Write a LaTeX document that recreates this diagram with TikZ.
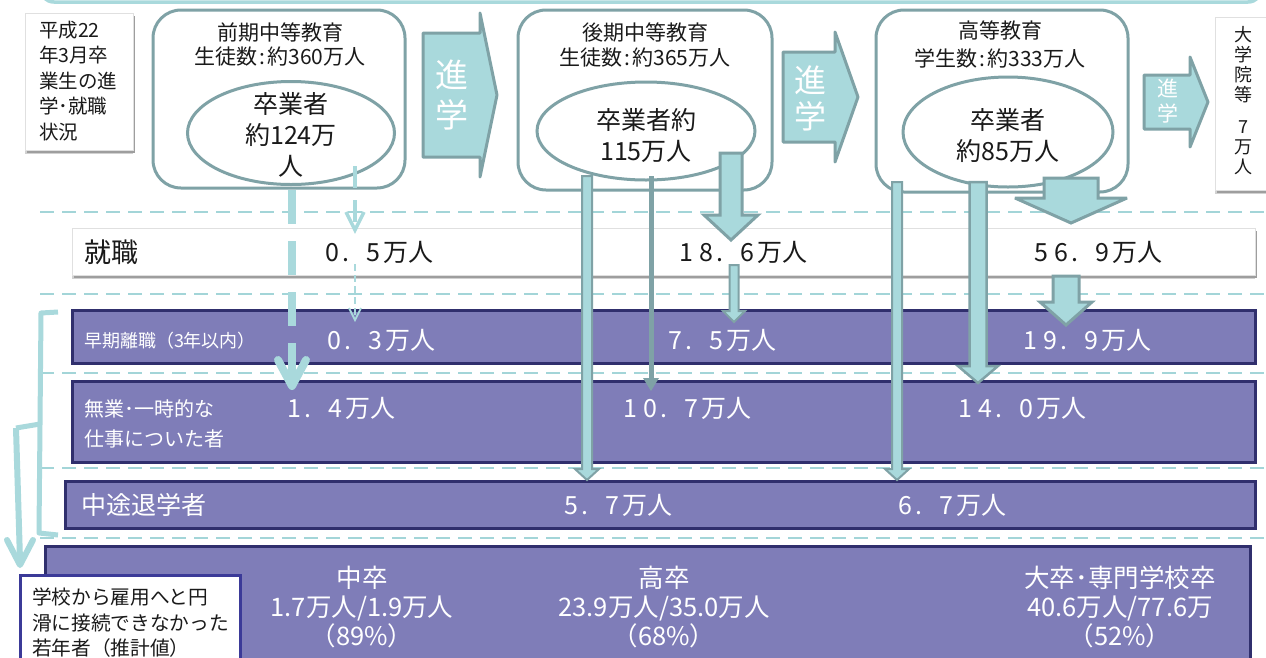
\documentclass[tikz,border=0pt]{standalone}
\usepackage{fontspec}
\setmainfont{Noto Sans CJK JP}
\usetikzlibrary{shapes.geometric}
\definecolor{lt}{HTML}{A9D9DC}
\definecolor{gt}{HTML}{7FA2A6}
\definecolor{dl}{HTML}{A3D5D8}
\definecolor{pu}{HTML}{7F7DB8}
\definecolor{nv}{HTML}{302F6D}
\definecolor{bb}{HTML}{3B3A98}
\definecolor{tx}{HTML}{1A1A1A}
\newcommand{\dg}[1]{\makebox[0.8em]{#1}}
\newcommand{\dpt}{\makebox[0.82em][l]{.}}
% x, ytop, ytip, half shaft, half head, head length, line width
\newcommand{\blkdown}[7]{%
  \filldraw[blk, line width=#7] (#1-#4,#2) -- (#1-#4,#3-#6) -- (#1-#5,#3-#6) -- (#1,#3) -- (#1+#5,#3-#6) -- (#1+#4,#3-#6) -- (#1+#4,#2) -- cycle;}
% x0, x1, xtip, yc, half body, half head, line width
\newcommand{\blkright}[7]{%
  \filldraw[blk, line join=round, line width=#7] (#1,#4-#5) -- (#2,#4-#5) -- (#2,#4-#6) -- (#3,#4) -- (#2,#4+#6) -- (#2,#4+#5) -- (#1,#4+#5) -- cycle;}
\begin{document}
\begin{tikzpicture}[x=1pt,y=-1pt,
  every node/.style={inner sep=0pt,outer sep=0pt,text=tx},
  dline/.style={draw=dl,line width=2.5pt,dash pattern=on 14pt off 8pt},
  rbox/.style={draw=gt,line width=3pt,rounded corners=28pt,fill=white,anchor=north west},
  ell/.style={draw=gt,line width=3pt,ellipse,fill=white},
  wrow/.style={fill=white,draw=black!12,line width=0.8pt,anchor=north west,
    preaction={fill=black!18,transform canvas={xshift=0pt,yshift=-4pt}},
    preaction={fill=black!38,transform canvas={xshift=1.5pt,yshift=-2.5pt}}},
  prow/.style={fill=pu,draw=nv,line width=3pt,anchor=north west},
  blk/.style={fill=lt,draw=gt,line join=miter,miter limit=3},
  val/.style={font=\fontsize{25}{30}\selectfont},
  pval/.style={val,text=white},
  ttl/.style={font=\fontsize{21}{25}\selectfont},
  elltxt/.style={align=center,font=\fontsize{25}{31}\selectfont},
  shin/.style={align=center,text=white},
  bottxt/.style={align=center,text=white,font=\fontsize{25.5}{29}\selectfont}
]
\useasboundingbox (0,0) rectangle (1266,657);
\fill[white] (0,0) rectangle (1266,657);

% top frame (partly outside)
\draw[draw=lt,line width=3.5pt,rounded corners=14pt] (40,-30) -- (40,2) -- (1262,2) -- (1262,-30);

% dashed separators
\foreach \yy in {212,294,373,468,538} \draw[dline] (40,\yy) -- (1266,\yy);

% left info box
\node[wrow,minimum width=108pt,minimum height=137pt] (info) at (25,13) {};
\node[anchor=north west,align=left,font=\fontsize{19.5}{25.5}\selectfont] (infot) at (39,21) {平成22\\年3月卒\\業生の進\\学･就職\\状況};

% stage boxes
\node[rbox,minimum width=252pt,minimum height=178pt] (b1) at (153,10) {};
\node[ttl] (b1a) at (280,33) {前期中等教育};
\node[ttl] (b1b) at (280,57) {生徒数\hspace{2pt}:\hspace{2pt}約360万人};
\node[ell,minimum width=207pt,minimum height=103pt] (e1) at (291,133) {};
\node[elltxt] (e1t) at (291,135) {卒業者\\約124万\\人};

\node[rbox,minimum width=254pt,minimum height=180pt] (b2) at (518,10) {};
\node[ttl] (b2a) at (645,33) {後期中等教育};
\node[ttl] (b2b) at (645,58) {生徒数\hspace{2pt}:\hspace{2pt}約365万人};
\node[ell,minimum width=218pt,minimum height=98pt] (e2) at (646,131) {};
\node[elltxt] (e2t) at (646,136) {卒業者約\\115万人};

\node[rbox,minimum width=252pt,minimum height=182pt] (b3) at (876,10) {};
\node[ttl] (b3a) at (1000,30) {高等教育};
\node[ttl] (b3b) at (1000,58) {学生数\hspace{2pt}:\hspace{2pt}約333万人};
\node[ell,minimum width=210pt,minimum height=110pt] (e3) at (1008,132) {};
\node[elltxt] (e3t) at (1008,136) {卒業者\\約85万人};

% progression arrows
\blkright{423}{480}{497}{95}{62}{82}{3}
\node[shin,font=\fontsize{33}{40}\selectfont] (s1) at (452,95) {進\\学};
\blkright{783}{835}{858}{97}{45}{65}{3}
\node[shin,font=\fontsize{32}{36}\selectfont] (s2) at (810,98) {進\\学};
\blkright{1144}{1190}{1208}{102}{27}{45}{3}
\node[shin,font=\fontsize{21}{25}\selectfont] (s3) at (1168,101) {進\\学};

% graduate school box
\node[wrow,minimum width=60pt,minimum height=173pt] (dgi) at (1215,17) {};
\node[align=center,font=\fontsize{18}{20}\selectfont] (dgit) at (1243,101) {大\\学\\院\\等\\[12pt]7\\万\\人};

% rows
\node[wrow,minimum width=1183pt,minimum height=47pt] (shu) at (72,228) {};
\node[anchor=west,font=\fontsize{27}{32}\selectfont] (shul) at (84,252) {就職};
\node[val] (v11) at (378,252) {\dg0\dpt\dg5万人};
\node[val] (v12) at (742,252) {\dg1\dg8\dpt\dg6万人};
\node[val] (v13) at (1097,252) {\dg5\dg6\dpt\dg9万人};

\node[prow,minimum width=1183pt,minimum height=53pt] (sou) at (72,310) {};
\node[anchor=west,text=white,font=\fontsize{18}{21}\selectfont] (soul) at (84,341) {早期離職（3年以内）};
\node[pval] (v21) at (380,340) {\dg0\dpt\dg3万人};
\node[pval] (v22) at (721,340) {\dg7\dpt\dg5万人};
\node[pval] (v23) at (1086,340) {\dg1\dg9\dpt\dg9万人};

\node[prow,minimum width=1183pt,minimum height=81pt] (mug) at (72,381) {};
\node[anchor=north west,align=left,text=white,font=\fontsize{20}{30}\selectfont] (mugl) at (84,400) {無業･一時的な\\仕事についた者};
\node[pval] (v31) at (340,408) {\dg1\dpt\dg4万人};
\node[pval] (v32) at (686,408) {\dg1\dg0\dpt\dg7万人};
\node[pval] (v33) at (1021,408) {\dg1\dg4\dpt\dg0万人};

\node[prow,minimum width=1190pt,minimum height=47pt] (chu) at (65,481) {};
\node[anchor=west,text=white,font=\fontsize{25}{30}\selectfont] (chul) at (81,505) {中途退学者};
\node[pval] (v41) at (617,505) {\dg5\dpt\dg7万人};
\node[pval] (v42) at (951,505) {\dg6\dpt\dg7万人};

\node[prow,minimum width=1205pt,minimum height=140pt] (bot) at (45,546) {};
\node[bottxt] (c1) at (362,607) {中卒\\1.7万人/1.9万人\\（89\%）};
\node[bottxt] (c2) at (664,607) {高卒\\23.9万人/35.0万人\\（68\%）};
\node[bottxt] (c3) at (1120,607) {大卒･専門学校卒\\40.6万人/77.6万\\（52\%）};

% note box
\node[fill=white,draw=bb,line width=3pt,anchor=north west,minimum width=220pt,minimum height=100pt] (note) at (20,575) {};
\node[anchor=north west,align=left,font=\fontsize{19.7}{25.5}\selectfont] (notet) at (32,588) {学校から雇用へと円\\滑に接続できなかった\\若年者（推計値）};

% bracket and arrow on the left
\draw[draw=lt,line width=5pt,line join=round] (58,312) -- (41,313) -- (40,424) -- (16,428);
\draw[draw=lt,line width=5pt,line join=round] (40,424) -- (39,533) -- (58,535);
\draw[draw=lt,line width=6pt] (16,428) -- (20,560);
\draw[draw=lt,line width=6pt,line cap=round,line join=round] (7,540) -- (20,565) -- (33,540);

% connectors from 中卒
\coordinate (a1) at (292,190); \coordinate (a2) at (292,378);
\draw[draw=lt,line width=8pt,dash pattern=on 34pt off 17pt] (a1) -- (a2);
\draw[draw=lt,line width=8pt,line cap=round,line join=round] (278,360) -- (292,386) -- (306,360);
\coordinate (d1) at (355,166); \coordinate (d2) at (355,226);
\draw[draw=lt,line width=4pt,dash pattern=on 22pt off 12pt] (d1) -- (d2);
\draw[draw=lt,line width=3.5pt] (346,212) -- (355,230) -- (364,212);
\coordinate (t1) at (355,264); \coordinate (t2) at (355,318);
\draw[draw=lt,line width=1.8pt,dash pattern=on 7pt off 4pt] (t1) -- (t2);
\draw[draw=lt,line width=1.8pt] (349,308) -- (355,320) -- (361,308);

% connectors from 高卒
\blkdown{587}{176}{480}{5}{12}{11}{2}
\coordinate (g1) at (651,176); \coordinate (g2) at (651,380);
\draw[draw=gt,line width=5pt] (g1) -- (g2);
\fill[gt] (643,378) -- (659,378) -- (651,391) -- cycle;
\blkdown{731}{153}{240}{11}{27}{25}{3}
\blkdown{734}{265}{322}{4.5}{11}{11}{2}

% connectors from 大卒
\blkdown{897}{182}{480}{5}{12}{11}{2}
\blkdown{978}{182}{383}{8.5}{20}{17}{2.5}
\blkdown{1071}{178}{223}{27}{56}{25}{3}
\blkdown{1066}{276}{325}{13}{26}{23}{3}
\end{tikzpicture}
\end{document}
